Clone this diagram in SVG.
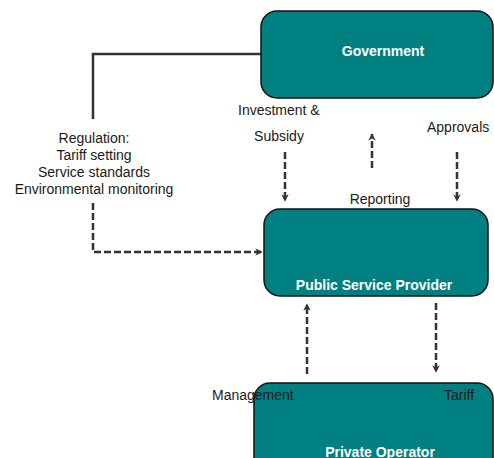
<svg xmlns="http://www.w3.org/2000/svg" width="494" height="458" viewBox="0 0 494 458">
<defs>
<style>
.box{fill:#008080;stroke:#111;stroke-width:1.5}
.nt{font-family:"Liberation Sans",Arial,sans-serif;font-size:14px;font-weight:bold;fill:#fff;text-anchor:middle}
.lb{font-family:"Liberation Sans",Arial,sans-serif;font-size:14px;fill:#1a1a1a}
.solid{fill:none;stroke:#333;stroke-width:2.5}
.dash{fill:none;stroke:#333;stroke-width:2.5;stroke-dasharray:7 3}
</style>
<marker id="ah" viewBox="0 0 10 10" refX="9" refY="5" markerWidth="3" markerHeight="3" orient="auto" markerUnits="strokeWidth">
<path d="M0,0 L10,5 L0,10 L3,5 Z" fill="#333"/>
</marker>
</defs>
<rect width="494" height="458" fill="#fff"/>
<g id="connectors">
<polyline class="solid" points="261,54 93,54 93,119"/>
<polyline class="dash" points="93,203 93,252 262,252" marker-end="url(#ah)"/>
<line class="dash" x1="285" y1="152" x2="285" y2="201" marker-end="url(#ah)"/>
<line class="dash" x1="372" y1="168" x2="372" y2="134" marker-end="url(#ah)"/>
<line class="dash" x1="457" y1="152" x2="457" y2="201" marker-end="url(#ah)"/>
<line class="dash" x1="307" y1="374" x2="307" y2="304" marker-end="url(#ah)"/>
<line class="dash" x1="436" y1="303" x2="436" y2="372" marker-end="url(#ah)"/>
</g>
<g id="government">
<rect class="box" x="261" y="11" width="232" height="87" rx="16"/>
<text class="nt" x="383" y="56">Government</text>
</g>
<g id="public-service-provider">
<rect class="box" x="264" y="209" width="224" height="87" rx="16"/>
<text class="nt" x="374" y="290">Public Service Provider</text>
</g>
<g id="private-operator">
<rect class="box" x="254" y="383" width="239" height="100" rx="16"/>
<text class="nt" x="380" y="457">Private Operator</text>
</g>
<g id="labels">
<text class="lb" text-anchor="middle" x="94" y="143">Regulation:</text>
<text class="lb" text-anchor="middle" x="94" y="160">Tariff setting</text>
<text class="lb" text-anchor="middle" x="94" y="177">Service standards</text>
<text class="lb" text-anchor="middle" x="94" y="194">Environmental monitoring</text>
<text class="lb" x="238" y="115">Investment &amp;</text>
<text class="lb" text-anchor="middle" x="279" y="141">Subsidy</text>
<text class="lb" x="427" y="132">Approvals</text>
<text class="lb" text-anchor="middle" x="380" y="204">Reporting</text>
<text class="lb" x="212" y="400">Management</text>
<text class="lb" x="444" y="400">Tariff</text>
</g>
</svg>
